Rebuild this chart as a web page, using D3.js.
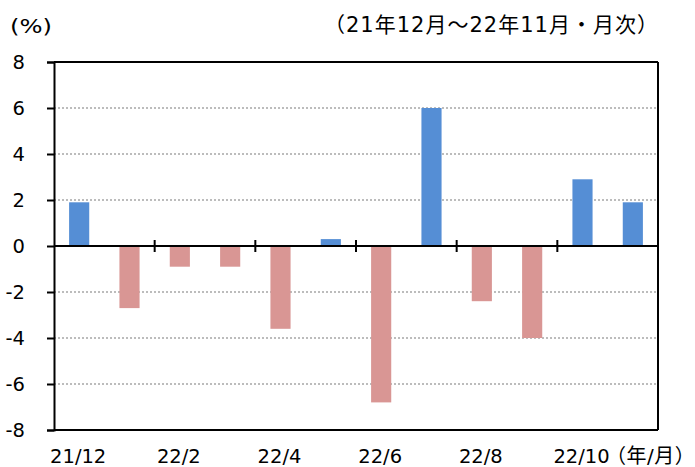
<!DOCTYPE html>
<html lang="ja">
<head>
<meta charset="UTF-8">
<script src="https://d3js.org/d3.v7.min.js"></script>
<style>
  body { margin: 0; background: #fff; }
  svg { display: block; }
  text { font-family: "DejaVu Sans", Verdana, sans-serif; fill: #000; }
  .jp { font-family: "DejaVu Sans", "Noto Sans CJK JP", sans-serif; }
</style>
</head>
<body>
<script>
const months = ["21/12", "22/1", "22/2", "22/3", "22/4", "22/5", "22/6", "22/7", "22/8", "22/9", "22/10", "22/11"];
const values = [1.9, -2.7, -0.9, -0.9, -3.6, 0.3, -6.8, 6.0, -2.4, -4.0, 2.9, 1.9];
const yTicks = [-8, -6, -4, -2, 0, 2, 4, 6, 8];
const xLabels = ["21/12", "22/2", "22/4", "22/6", "22/8", "22/10"];

const w = 695, h = 467;
const m = {left: 54, right: 37, top: 62, bottom: 37};

const svg = d3.select("body").append("svg")
    .attr("width", w)
    .attr("height", h);

const x = d3.scaleBand()
    .domain(months)
    .range([m.left, w - m.right])
    .paddingInner(0.6)
    .paddingOuter(0.3);

const y = d3.scaleLinear()
    .domain([-8, 8])
    .range([h - m.bottom, m.top]);

// dotted grid
svg.append("g")
    .selectAll("line")
    .data(yTicks.filter(d => d != 0 && d != 8 && d != -8))
    .enter()
    .append("line")
    .attr("x1", m.left)
    .attr("x2", w - m.right)
    .attr("y1", d => y(d))
    .attr("y2", d => y(d))
    .attr("stroke", "#a6a6a6")
    .attr("stroke-width", 1.3)
    .attr("stroke-dasharray", "2,2");

// bars
svg.append("g")
    .selectAll("rect")
    .data(values)
    .enter()
    .append("rect")
    .attr("x", (d, i) => x(months[i]))
    .attr("width", x.bandwidth())
    .attr("y", d => y(Math.max(0, d)))
    .attr("height", d => Math.abs(y(d) - y(0)))
    .attr("fill", d => d > 0 ? "#558ed5" : "#d99694");

// frame
svg.append("line")
    .attr("x1", m.left).attr("x2", w - m.right)
    .attr("y1", y(8)).attr("y2", y(8))
    .attr("stroke", "#000").attr("stroke-width", 2);
svg.append("line")
    .attr("x1", w - m.right).attr("x2", w - m.right)
    .attr("y1", y(8)).attr("y2", y(-8))
    .attr("stroke", "#000").attr("stroke-width", 2);
svg.append("line")
    .attr("x1", m.left).attr("x2", w - m.right)
    .attr("y1", y(-8)).attr("y2", y(-8))
    .attr("stroke", "#000").attr("stroke-width", 2);

// y axis (plain hyphen for negatives)
const yAxis = svg.append("g")
    .attr("transform", `translate(${m.left},0)`)
    .call(d3.axisLeft(y).tickValues(yTicks).tickSize(7).tickPadding(22).tickFormat(d => String(d)));
yAxis.select(".domain").attr("stroke-width", 2);
yAxis.selectAll(".tick line").attr("stroke-width", 2);
yAxis.selectAll("text")
    .style("font-size", "19.5px")
    .style("font-family", "'DejaVu Sans', Verdana, sans-serif")
    .attr("fill", "#000");

// zero line, with a tick between every two months
const step = x.step();
const bounds = [2, 4, 6, 8, 10].map(i => x(months[i]) - x.paddingInner() * step / 2);
svg.append("line")
    .attr("x1", m.left).attr("x2", w - m.right)
    .attr("y1", y(0)).attr("y2", y(0))
    .attr("stroke", "#000").attr("stroke-width", 2);
svg.append("g")
    .selectAll("line")
    .data(bounds)
    .enter()
    .append("line")
    .attr("x1", d => d).attr("x2", d => d)
    .attr("y1", y(0) - 6).attr("y2", y(0) + 6)
    .attr("stroke", "#000").attr("stroke-width", 2);

// x labels
svg.append("g")
    .selectAll("text")
    .data(xLabels)
    .enter()
    .append("text")
    .attr("x", d => x(d) + x.bandwidth() / 2 - 1)
    .attr("y", 463)
    .attr("text-anchor", "middle")
    .style("font-size", "19.5px")
    .text(d => d);

svg.append("text")
    .attr("class", "jp")
    .attr("x", 606)
    .attr("y", 463)
    .style("font-size", "20px")
    .style("letter-spacing", "0.5px")
    .text("（年/月）");

svg.append("text")
    .attr("x", 10)
    .attr("y", 33)
    .attr("textLength", 42)
    .attr("lengthAdjust", "spacingAndGlyphs")
    .style("font-size", "19.5px")
    .text("(%)");

svg.append("text")
    .attr("class", "jp")
    .attr("x", 324)
    .attr("y", 32)
    .style("font-size", "21px")
    .style("letter-spacing", "1px")
    .text("（21年12月～22年11月・月次）");
</script>
</body>
</html>
